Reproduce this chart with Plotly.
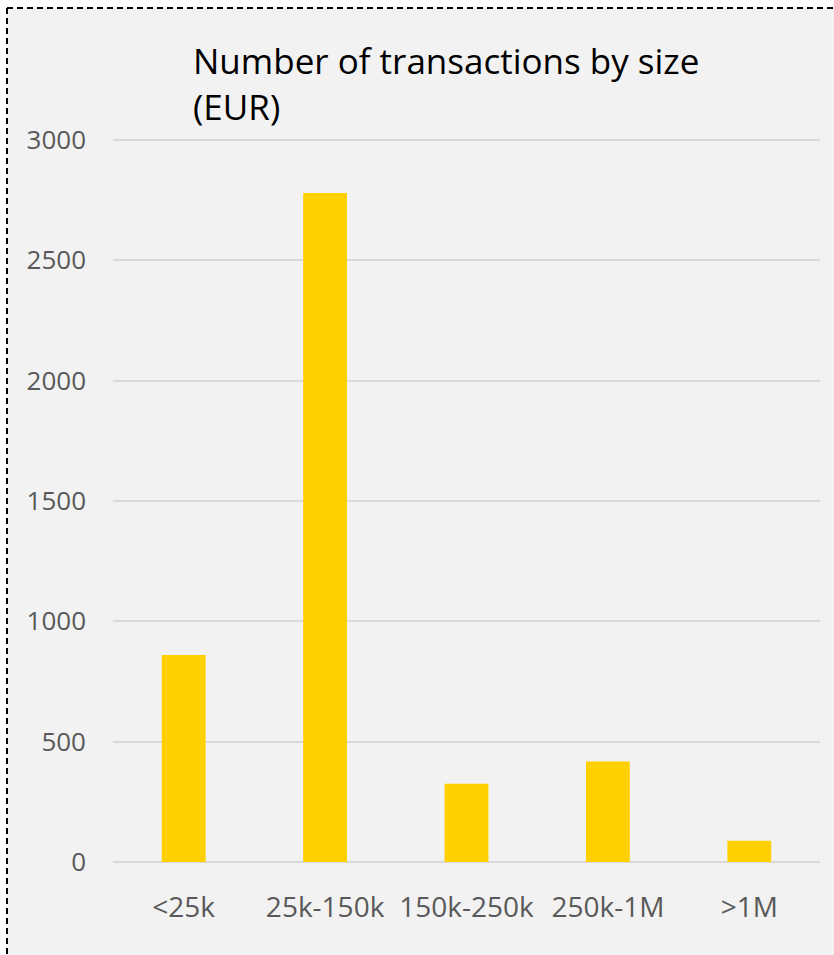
import plotly.graph_objects as go

categories = ["<25k", "25k-150k", "150k-250k", "250k-1M", ">1M"]
counts = [860, 2780, 325, 418, 88]
title_text = "Number of transactions by size<br>(EUR)"
y_ticks = [0, 500, 1000, 1500, 2000, 2500, 3000]

W, H = 834, 955
L, R, T, B = 113, 14, 136, 93
pw, ph = W - L - R, H - T - B
ymax = ph / 722 * 3000

def px_x(p):
    return (p - L) / pw

def px_y(p):
    return (H - B - p) / ph

border = dict(color="black", width=2, dash="6px,4px")

fig = go.Figure(go.Bar(
    x=categories, y=counts,
    marker=dict(color="#FFD000", line=dict(width=0)),
    width=0.31,
))

fig.update_layout(
    width=W, height=H,
    margin=dict(l=L, r=R, t=T, b=B),
    paper_bgcolor="white",
    plot_bgcolor="#f2f2f2",
    showlegend=False,
    font=dict(family="Open Sans", color="#595959"),
    shapes=[
        dict(type="rect", xref="paper", yref="paper", layer="below",
             x0=px_x(7), x1=px_x(W), y0=px_y(H), y1=px_y(8),
             fillcolor="#f2f2f2", line=dict(width=0)),
        dict(type="line", xref="paper", yref="paper", layer="below",
             x0=px_x(7), x1=px_x(W), y0=px_y(8), y1=px_y(8), line=border),
        dict(type="line", xref="paper", yref="paper", layer="below",
             x0=px_x(7), x1=px_x(7), y0=px_y(8), y1=px_y(H), line=border),
    ],
    annotations=[dict(
        text=title_text, xref="paper", yref="paper",
        x=px_x(191), y=px_y(35), xanchor="left", yanchor="top",
        align="left", showarrow=False,
        font=dict(family="Open Sans", size=35, color="black"),
    )],
)

fig.update_xaxes(
    range=[-0.5, 4.5], showgrid=False, showline=False, zeroline=False,
    tickfont=dict(size=28, color="#595959"), ticks="", ticklabelstandoff=26,
)
fig.update_yaxes(
    range=[0, ymax], tickvals=y_ticks, showgrid=True, gridcolor="#d9d9d9",
    gridwidth=1.5, zeroline=True, zerolinecolor="#d9d9d9", zerolinewidth=2,
    showline=False, tickfont=dict(size=26, color="#595959"), ticks="",
    ticklabelstandoff=26,
)

fig.write_html("out.html", config={"displayModeBar": False},
               post_script="document.body.style.margin='0';")
